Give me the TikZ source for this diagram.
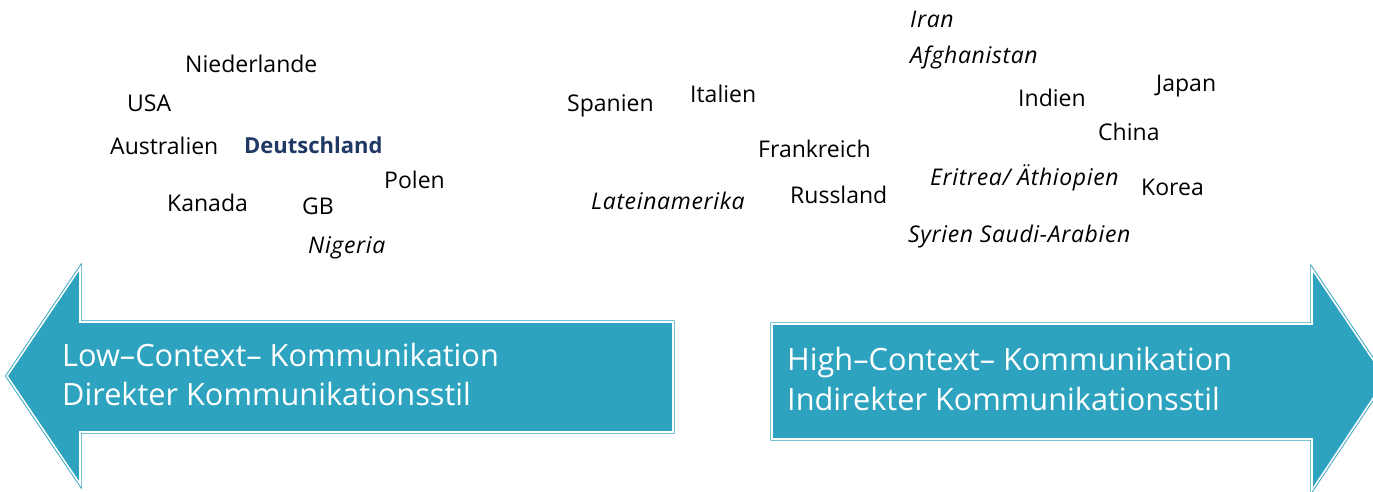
\documentclass[tikz,border=0pt]{standalone}
\usepackage{fontspec}
\setmainfont{Open Sans}
\definecolor{teal1}{HTML}{2EA3C0}
\definecolor{navy1}{HTML}{1F3864}
\begin{document}
\begin{tikzpicture}[x=1pt,y=-1pt,
  country/.style={anchor=base west,inner sep=0pt,font=\fontsize{23}{26}\selectfont},
  itcountry/.style={country,font=\fontsize{23}{26}\selectfont\itshape\addfontfeature{LetterSpace=2.8}},
  arrowbox/.style={fill=teal1,draw=teal1,line width=0.9pt,double=white,double distance=1.6pt,line join=miter},
  arrowtext/.style={anchor=base west,inner sep=0pt,align=left,text=white,font=\fontsize{30.7}{40}\selectfont}]
\useasboundingbox (0,0) rectangle (1373,491);
\clip (0,0) rectangle (1373,491);
% left arrow
\draw[arrowbox] (7,376) -- (80,268) -- (80,322) -- (673,322) -- (673,432) -- (80,432) -- (80,484) -- cycle;
% right arrow
\draw[arrowbox] (1386,379) -- (1312,269) -- (1312,324) -- (772,324) -- (772,439) -- (1312,439) -- (1312,490) -- cycle;
\node[arrowtext] (lowa) at (62,366) {Low–Context– Kommunikation};
\node[arrowtext] (lowb) at (62,405) {Direkter Kommunikationsstil};
\node[arrowtext] (higha) at (787,370) {High–Context– Kommunikation};
\node[arrowtext] (highb) at (787,410) {Indirekter Kommunikationsstil};
% left cluster
\node[country] (nl) at (185,72) {Niederlande};
\node[country] (usa) at (127,111) {USA};
\node[country] (au) at (110,154) {Australien};
\node[country,font=\fontsize{22}{26}\selectfont\bfseries,text=navy1] (de) at (244,153) {Deutschland};
\node[country] (pl) at (384,188) {Polen};
\node[country] (ca) at (167,211) {Kanada};
\node[country] (gb) at (302,214) {GB};
\node[itcountry] (ng) at (308,253) {Nigeria};
% middle cluster
\node[country] (es) at (567,111) {Spanien};
\node[country] (it) at (690,102) {Italien};
\node[country] (fr) at (758,157) {Frankreich};
\node[itcountry] (la) at (591,209) {Lateinamerika};
\node[country] (ru) at (790,203) {Russland};
% right cluster
\node[itcountry] (ir) at (910,27) {Iran};
\node[itcountry] (af) at (910,63) {Afghanistan};
\node[country] (in) at (1018,106) {Indien};
\node[country] (jp) at (1156,91) {Japan};
\node[country] (cn) at (1098,140) {China};
\node[itcountry] (er) at (930,185) {Eritrea/ Äthiopien};
\node[country] (kr) at (1141,195) {Korea};
\node[itcountry] (sy) at (908,242) {Syrien Saudi-Arabien};
\end{tikzpicture}
\end{document}
